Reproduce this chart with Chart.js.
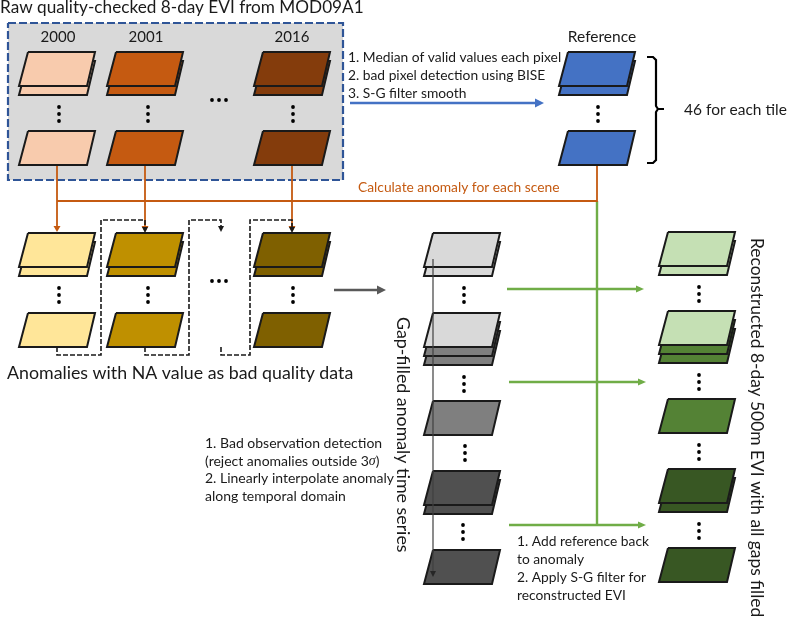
<!DOCTYPE html>
<html>
<head>
<meta charset="utf-8">
<title>EVI gap filling workflow</title>
<script src="https://cdn.jsdelivr.net/npm/chart.js@4/dist/chart.umd.js"></script>
<style>
  html, body { margin: 0; padding: 0; background: #fff; }
  canvas { display: block; }
</style>
</head>
<body>
<canvas id="flow" width="787" height="619"></canvas>
<script>
// sheets: left x of each column, top y of each row, fill of each layer (front first)
const rawColumns = [19, 107, 254];
const rawRows = [52, 131];
const rawColors = ['#F8CBAD', '#C55A11', '#843C0C'];
const anomalyRows = [233, 313];
const anomalyColors = ['#FFE699', '#BF9000', '#7F6000'];
const refColumn = 559;
const refRows = [52, 131];
const gapColumn = 424;
const gapRows = [233, 313, 401, 471, 550];
const gapLayers = [['#D9D9D9', '#D9D9D9'], ['#D9D9D9', '#7F7F7F', '#7F7F7F'], ['#7F7F7F'], ['#505050', '#505050'], ['#505050']];
const greenColumn = 659;
const greenRows = [232, 311, 399, 469, 548];
const greenLayers = [['#C5E0B4', '#C5E0B4'], ['#C5E0B4', '#548235', '#548235'], ['#548235'], ['#385723', '#385723'], ['#385723']];

// connector routes
const boxOutline = [[8, 23], [343, 23], [343, 180], [8, 180], [8, 23]];
const orangeDrops = [[[57, 166], [57, 226]], [[145, 166], [145, 226]], [[292, 166], [292, 226]]];
const orangeTrunk = [[597, 166], [597, 201], [57, 201]];
const greenTrunk = [[597, 201], [597, 525]];
const greenArrows = [[507, 644, 289], [509, 646, 382], [509, 646, 525]];
const blueArrow = [350, 544, 103];
const greyArrow = [334, 386, 290];
const dashedRoutes = [
  [[57, 347], [57, 355], [101, 355], [101, 220], [145, 220], [145, 228]],
  [[145, 347], [145, 355], [189, 355], [189, 220], [221, 220], [221, 227]],
  [[221, 347], [221, 355], [250, 355], [250, 220], [292, 220], [292, 228]]
];
const seriesAxis = [[433, 259], [433, 572]];
const bracket = [[647, 57], [653, 57], [656, 60], [656, 106], [658, 109], [664, 109], [658, 109], [656, 112], [656, 160], [653, 163], [647, 163]];

// ellipsis dots, middle dot of each group
const stackDotsX = [59, 148, 293, 59, 148, 293, 598, 464, 464, 465, 463, 699, 699, 699, 699];
const stackDotsY = [114, 114, 114, 295, 295, 295, 114, 295, 384, 453, 532, 294, 382, 452, 531];
const yearDotsX = [219, 219];
const yearDotsY = [100, 281];

const yearLabels = ['2000', '2001', '2016'];
const yearLabelX = [58, 146, 292];
const stepsBlue = ['1. Median of valid values each pixel', '2. bad pixel detection using BISE', '3. S-G filter smooth'];
const stepsBad = ['1. Bad observation detection', null, '2. Linearly interpolate anomaly', 'along temporal domain'];
const stepsAdd = ['1. Add reference back', 'to anomaly', '2. Apply S-G filter for', 'reconstructed EVI'];

const FONT = 'Lato, "Open Sans", sans-serif';
const INK = '#1a1a1a';
const ORANGE = '#C55A11';
const GREEN = '#70AD47';
const BLUE = '#4472C4';
const DARK_BLUE = '#2F5597';

const toPts = list => list.map(p => ({ x: p[0], y: p[1] }));

function shape(points, fillColor, lineColor, lineWidth, dash) {
    return {
        data: toPts(points),
        showLine: true,
        pointRadius: 0,
        tension: 0,
        fill: fillColor ? 'shape' : false,
        backgroundColor: fillColor || 'transparent',
        borderColor: lineColor,
        borderWidth: lineWidth,
        borderDash: dash || [],
        borderJoinStyle: 'miter'
    };
}

function sheet(x, top, fillColor) {
    const outline = [[x + 9, top], [x + 76, top], [x + 68, top + 34], [x, top + 34], [x + 9, top]];
    return shape(outline, fillColor, INK, 2);
}

// back layers first so the front one covers them
function stack(x, top, layers) {
    const out = [];
    for (let i = layers.length - 1; i >= 0; i--) out.push(sheet(x, top + i * 9, layers[i]));
    return out;
}

function headRight(x, y, color, len, half) {
    return shape([[x - len, y - half], [x, y], [x - len, y + half], [x - len, y - half]], color, color, 0);
}

function headDown(x, y, color, len, half) {
    return shape([[x - half, y - len], [x + half, y - len], [x, y], [x - half, y - len]], color, color, 0);
}

function buildDatasets() {
    const sets = [];
    sets.push(shape(boxOutline, '#D9D9D9', DARK_BLUE, 2.2, [8, 3]));

    rawColumns.forEach((x, c) => {
        sets.push(...stack(x, rawRows[0], [rawColors[c], rawColors[c]]));
        sets.push(...stack(x, rawRows[1], [rawColors[c]]));
        sets.push(...stack(x, anomalyRows[0], [anomalyColors[c], anomalyColors[c]]));
        sets.push(...stack(x, anomalyRows[1], [anomalyColors[c]]));
    });
    sets.push(...stack(refColumn, refRows[0], [BLUE, BLUE]));
    sets.push(...stack(refColumn, refRows[1], [BLUE]));
    gapRows.forEach((top, i) => sets.push(...stack(gapColumn, top, gapLayers[i])));
    greenRows.forEach((top, i) => sets.push(...stack(greenColumn, top, greenLayers[i])));

    sets.push(shape(greenTrunk, null, GREEN, 2.4));
    sets.push(shape(orangeTrunk, null, ORANGE, 1.8));
    orangeDrops.forEach(line => sets.push(shape(line, null, ORANGE, 1.8)));
    sets.push(headDown(57, 232, ORANGE, 6, 3.5));
    sets.push(headDown(145, 232, ORANGE, 6, 3.5));
    sets.push(headDown(292, 232, ORANGE, 6, 3.5));

    dashedRoutes.forEach(route => {
        sets.push(shape(route, null, INK, 1.6, [5, 2]));
        const end = route[route.length - 1];
        sets.push(headDown(end[0], end[1] + 5, INK, 6, 3));
    });

    greenArrows.forEach(a => {
        sets.push(shape([[a[0], a[2]], [a[1] - 6, a[2]]], null, GREEN, 2.4));
        sets.push(headRight(a[1], a[2], GREEN, 8, 3.5));
    });
    sets.push(shape([[blueArrow[0], blueArrow[2]], [blueArrow[1] - 8, blueArrow[2]]], null, BLUE, 2.4));
    sets.push(headRight(blueArrow[1], blueArrow[2], BLUE, 9, 4.5));
    sets.push(shape([[greyArrow[0], greyArrow[2]], [greyArrow[1] - 8, greyArrow[2]]], null, '#595959', 2.4));
    sets.push(headRight(greyArrow[1], greyArrow[2], '#595959', 9, 4.5));

    sets.push(shape(seriesAxis, null, '#404040', 1.2));
    sets.push(headDown(433, 577, '#262626', 6, 3));
    sets.push(shape(bracket, null, '#000', 2.2));

    // ellipsis dots as plain points
    const dots = [];
    stackDotsX.forEach((x, i) => {
        dots.push({ x: x, y: stackDotsY[i] - 7 }, { x: x, y: stackDotsY[i] }, { x: x, y: stackDotsY[i] + 7 });
    });
    yearDotsX.forEach((x, i) => {
        dots.push({ x: x - 7, y: yearDotsY[i] }, { x: x, y: yearDotsY[i] }, { x: x + 7, y: yearDotsY[i] });
    });
    sets.push({ data: dots, showLine: false, pointRadius: 1.9, pointBorderWidth: 0, pointBackgroundColor: '#000' });

    // chart.js paints the first dataset last
    return sets.reverse();
}

function textItems() {
    const items = [{ text: 'Raw quality-checked 8-day EVI from MOD09A1', x: 0, y: 7, size: 17.2 }];
    yearLabels.forEach((t, i) => items.push({ text: t, x: yearLabelX[i], y: 37, size: 15, align: 'center' }));
    items.push({ text: 'Reference', x: 602, y: 37, size: 15.5, align: 'center' });
    stepsBlue.forEach((t, i) => items.push({ text: t, x: 348, y: 58 + i * 17.7, size: 13.8 }));
    items.push({ text: '46 for each tile', x: 684, y: 110, size: 15.5 });
    items.push({ text: 'Calculate anomaly for each scene', x: 358, y: 188, size: 13.8, color: ORANGE });
    items.push({ text: 'Anomalies with NA value as bad quality data', x: 7, y: 373, size: 17.8 });
    stepsBad.forEach((t, i) => {
        if (t) items.push({ text: t, x: 205, y: 443 + i * 17.7, size: 14 });
    });
    items.push({ text: '(reject anomalies outside 3', x: 205, y: 461, size: 14, tail: true });
    stepsAdd.forEach((t, i) => items.push({ text: t, x: 517, y: 542 + i * 18, size: 13.8 }));
    items.push({ text: 'Gap-filled anomaly time series', x: 403, y: 317, size: 17.8, rotate: true });
    items.push({ text: 'Reconstructed 8-day 500m EVI with all gaps filled', x: 757, y: 238, size: 17.4, rotate: true });
    return items;
}

const textPlugin = {
    id: 'flowText',
    afterDatasetsDraw(chart) {
        const ctx = chart.ctx;
        const sx = chart.scales.x;
        const sy = chart.scales.y;
        textItems().forEach(item => {
            ctx.save();
            ctx.translate(sx.getPixelForValue(item.x), sy.getPixelForValue(item.y));
            if (item.rotate) ctx.rotate(Math.PI / 2);
            ctx.font = item.size + 'px ' + FONT;
            ctx.fillStyle = item.color || '#1a1a1a';
            ctx.textAlign = item.align || 'left';
            ctx.textBaseline = 'middle';
            ctx.fillText(item.text, 0, 0);
            if (item.tail) {
                let w = ctx.measureText(item.text).width;
                ctx.font = 'italic ' + item.size + 'px "Liberation Serif", serif';
                ctx.fillText('\u03c3', w, 0);
                w += ctx.measureText('\u03c3').width;
                ctx.font = item.size + 'px ' + FONT;
                ctx.fillText(')', w, 0);
            }
            ctx.restore();
        });
    }
};

new Chart(document.getElementById('flow').getContext('2d'), {
    type: 'scatter',
    data: { datasets: buildDatasets() },
    options: {
        responsive: false,
        animation: false,
        layout: { padding: 0, autoPadding: false },
        plugins: { legend: { display: false }, tooltip: { enabled: false } },
        scales: {
            x: { type: 'linear', display: false, min: 0, max: 787 },
            y: { type: 'linear', display: false, min: 0, max: 619, reverse: true }
        }
    },
    plugins: [textPlugin]
});
</script>
</body>
</html>
